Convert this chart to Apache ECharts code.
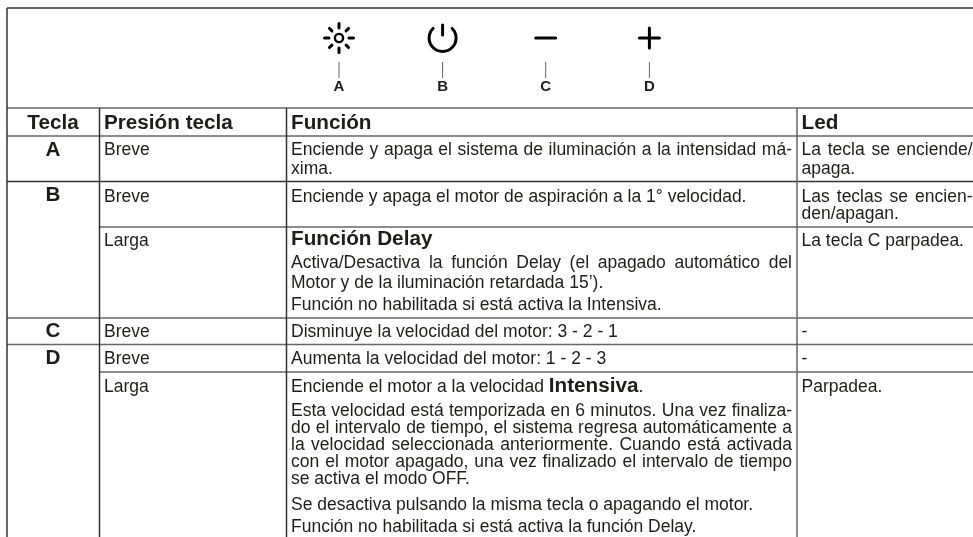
<!DOCTYPE html>
<html style="height: 100%">
<head>
    <meta charset="utf-8">
    <script src="https://cdn.jsdelivr.net/npm/echarts@6/dist/echarts.min.js"></script>
</head>
<body style="height: 100%;margin: 0;background: #fff">
<div id="chart1" style="width: 973px; height: 537px;"></div>
<script type="text/javascript">
// contenido de la tabla
var headerLabels = ['Tecla', 'Presión tecla', 'Función', 'Led'];
var keyLabels = ['A', 'B', 'C', 'D'];
var pressA = ['Breve'];
var pressB = ['Breve', 'Larga'];
var pressC = ['Breve'];
var pressD = ['Breve', 'Larga'];
var funcA = ['Enciende y apaga el sistema de iluminación a la intensidad má-', 'xima.'];
var funcB1 = ['Enciende y apaga el motor de aspiración a la 1° velocidad.'];
var funcB2 = ['**Función Delay**',
    'Activa/Desactiva la función Delay (el apagado automático del',
    'Motor y de la iluminación retardada 15’).',
    'Función no habilitada si está activa la Intensiva.'];
var funcC = ['Disminuye la velocidad del motor: 3 - 2 - 1'];
var funcD1 = ['Aumenta la velocidad del motor: 1 - 2 - 3'];
var funcD2 = ['Enciende el motor a la velocidad **Intensiva**.',
    'Esta velocidad está temporizada en 6 minutos. Una vez finaliza-',
    'do el intervalo de tiempo, el sistema regresa automáticamente a',
    'la velocidad seleccionada anteriormente. Cuando está activada',
    'con el motor apagado, una vez finalizado el intervalo de tiempo',
    'se activa el modo OFF.',
    'Se desactiva pulsando la misma tecla o apagando el motor.',
    'Función no habilitada si está activa la función Delay.'];
var ledA = ['La tecla se enciende/', 'apaga.'];
var ledB1 = ['Las teclas se encien-', 'den/apagan.'];
var ledB2 = ['La tecla C parpadea.'];
var ledC = ['-'];
var ledD1 = ['-'];
var ledD2 = ['Parpadea.'];

// geometria (coordenadas de los ejes ocultos)
var colX = [7, 99.5, 286.5, 797, 973];
var rowY = [8, 108, 136, 181.5, 227, 318, 344.5, 372, 537];
var keyCenterX = 53;
var iconX = [339, 442.6, 545.7, 649.4];
var textFont = 'Liberation Sans, Arial, sans-serif';
var bodySize = 17.5, boldSize = 20.7, headSize = 20.7;
var ruleShades = ['#666666', '#333333'];

var ctx = document.createElement('canvas').getContext('2d');
function fontOf(bold, size) {
    return (bold ? 'bold ' : '') + size + 'px ' + textFont;
}
function widthOf(txt, font) {
    ctx.font = font;
    return ctx.measureText(txt).width;
}

// [columna, lineas, lineas base, justificadas]
var cells = [
    {x: colX[1] + 4.5, lines: pressA, ys: [156.7]},
    {x: colX[1] + 4.5, lines: [pressB[0]], ys: [202.8]},
    {x: colX[1] + 4.5, lines: [pressB[1]], ys: [247]},
    {x: colX[1] + 4.5, lines: pressC, ys: [338.4]},
    {x: colX[1] + 4.5, lines: [pressD[0]], ys: [365.5]},
    {x: colX[1] + 4.5, lines: [pressD[1]], ys: [393]},
    {x: colX[2] + 4.5, w: 501, lines: funcA, ys: [156.7, 175], just: [0]},
    {x: colX[2] + 4.5, lines: funcB1, ys: [202.8]},
    {x: colX[2] + 4.5, w: 501, lines: funcB2, ys: [246.6, 269.4, 289.7, 311.5], just: [1]},
    {x: colX[2] + 4.5, lines: funcC, ys: [338.4]},
    {x: colX[2] + 4.5, lines: funcD1, ys: [365.5]},
    {x: colX[2] + 4.5, w: 501, lines: funcD2, ys: [393, 417.3, 433.9, 451.3, 468.3, 485.7, 511, 533.7], just: [1, 2, 3, 4]},
    {x: colX[3] + 4.5, w: 171, lines: ledA, ys: [156.7, 175], just: [0]},
    {x: colX[3] + 4.5, w: 171, lines: ledB1, ys: [202.8, 220.5], just: [0]},
    {x: colX[3] + 4.5, lines: ledB2, ys: [247]},
    {x: colX[3] + 4.5, lines: ledC, ys: [338.4]},
    {x: colX[3] + 4.5, lines: ledD1, ys: [365.5]},
    {x: colX[3] + 4.5, lines: ledD2, ys: [393]}
];

// cada linea de texto es un dato de la serie
var textRows = [];
headerLabels.forEach(function (t, i) {
    var x = i == 0 ? keyCenterX : colX[i] + 4.5;
    textRows.push({x: x, y: 130, text: t, bold: true, size: headSize, center: i == 0});
});
keyLabels.forEach(function (t, i) {
    textRows.push({x: keyCenterX, y: [157, 202.8, 338.4, 365][i], text: t, bold: true, size: headSize, center: true});
    textRows.push({x: iconX[i], y: 92.5, text: t, bold: true, size: 15, center: true});
});
cells.forEach(function (c) {
    c.lines.forEach(function (t, i) {
        textRows.push({x: c.x, y: c.ys[i], text: t, w: (c.just || []).indexOf(i) >= 0 ? c.w : 0});
    });
});

function runsOf(row) {
    // **negrita** separa los tramos de la linea
    return row.text.split('**').map(function (p, k) {
        var bold = row.bold || k % 2 == 1;
        return {text: p, bold: bold, size: row.size || (bold ? boldSize : bodySize)};
    }).filter(function (r) { return r.text != ''; });
}

function renderText(params, api) {
    var row = textRows[api.value(2)];
    var p = api.coord([api.value(0), api.value(1)]);
    var kids = [];
    function put(txt, x, r) {
        var font = fontOf(r.bold, r.size);
        kids.push({
            type: 'text',
            x: x,
            y: p[1] - 0.3465 * r.size,
            style: {text: txt, font: font, fill: '#1d1d1b', textAlign: 'left', textVerticalAlign: 'middle'}
        });
    }
    var runs = runsOf(row);
    if (row.w) {
        // linea justificada
        var r = runs[0], font = fontOf(r.bold, r.size);
        var words = r.text.split(' ');
        var sum = words.reduce(function (a, w) { return a + widthOf(w, font); }, 0);
        var gap = (row.w - sum) / (words.length - 1), x = p[0];
        words.forEach(function (w) {
            put(w, x, r);
            x += widthOf(w, font) + gap;
        });
    } else {
        var x = p[0];
        if (row.center) {
            x -= widthOf(row.text, fontOf(runs[0].bold, runs[0].size)) / 2;
        }
        runs.forEach(function (r) {
            put(r.text, x, r);
            x += widthOf(r.text, fontOf(r.bold, r.size));
        });
    }
    return {type: 'group', children: kids};
}

// reglas de la tabla: [x1, y1, x2, y2, grosor, tono]
var ruleRows = [
    [colX[0], rowY[0], colX[4], rowY[0], 1.5, 1],
    [colX[0], rowY[1], colX[4], rowY[1], 1.5, 0],
    [colX[0], rowY[2], colX[4], rowY[2], 1.5, 0],
    [colX[0], rowY[3], colX[4], rowY[3], 1.5, 1],
    [colX[1], rowY[4], colX[4], rowY[4], 1.5, 0],
    [colX[0], rowY[5], colX[4], rowY[5], 1.5, 0],
    [colX[0], rowY[6], colX[4], rowY[6], 1.5, 0],
    [colX[1], rowY[7], colX[4], rowY[7], 1.5, 0],
    [colX[0], rowY[0], colX[0], rowY[8], 1.5, 1],
    [colX[1], rowY[1], colX[1], rowY[8], 1.5, 1],
    [colX[2], rowY[1], colX[2], rowY[8], 1.5, 1],
    [colX[3], rowY[1], colX[3], rowY[8], 1.5, 0]
];
iconX.forEach(function (x) {
    ruleRows.push([x, 62, x, 78, 1, 0]);
});

function renderRule(params, api) {
    var a = api.coord([api.value(0), api.value(1)]);
    var b = api.coord([api.value(2), api.value(3)]);
    return {
        type: 'line',
        shape: {x1: a[0], y1: a[1], x2: b[0], y2: b[1]},
        style: {stroke: ruleShades[api.value(5)], lineWidth: api.value(4)}
    };
}

// iconos de las teclas
function renderIcon(params, api) {
    var c = api.coord([api.value(0), api.value(1)]);
    var kind = api.value(2);
    var ink = {stroke: '#000', lineWidth: 3, fill: null, lineCap: 'round'};
    var kids = [];
    function seg(x1, y1, x2, y2) {
        kids.push({type: 'line', shape: {x1: c[0] + x1, y1: c[1] + y1, x2: c[0] + x2, y2: c[1] + y2}, style: ink});
    }
    if (kind == 0) {
        kids.push({type: 'circle', shape: {cx: c[0], cy: c[1], r: 4.1}, style: {stroke: '#000', lineWidth: 2.4, fill: null}});
        [0, 1, 2, 3, 4, 5, 6, 7].forEach(function (k) {
            var a = k * Math.PI / 4, s = Math.sin(a), d = Math.cos(a);
            var r2 = k % 2 ? 13.5 : 14.5;
            seg(10 * d, 10 * s, r2 * d, r2 * s);
        });
    } else if (kind == 1) {
        kids.push({
            type: 'arc',
            shape: {cx: c[0], cy: c[1], r: 13.5, startAngle: -Math.PI / 4, endAngle: -3 * Math.PI / 4, clockwise: true},
            style: ink
        });
        seg(0, -13, 0, -3);
    } else if (kind == 2) {
        seg(-10, 0, 10, 0);
    } else {
        seg(-10, 0, 10, 0);
        seg(0, -10, 0, 10);
    }
    return {type: 'group', children: kids};
}

var myChart = echarts.init(document.getElementById('chart1'));
myChart.setOption({
    animation: false,
    backgroundColor: '#fff',
    grid: {left: 0, right: 0, top: 0, bottom: 0},
    xAxis: {type: 'value', min: 0, max: 973, show: false},
    yAxis: {type: 'value', min: 0, max: 537, inverse: true, show: false},
    series: [
        {type: 'custom', clip: false, silent: true, data: ruleRows, renderItem: renderRule},
        {
            type: 'custom', clip: false, silent: true,
            data: iconX.map(function (x, i) { return [x, 38, i]; }),
            renderItem: renderIcon
        },
        {
            type: 'custom', clip: false, silent: true,
            data: textRows.map(function (r, i) { return [r.x, r.y, i]; }),
            renderItem: renderText
        }
    ]
});
</script>
</body>
</html>
